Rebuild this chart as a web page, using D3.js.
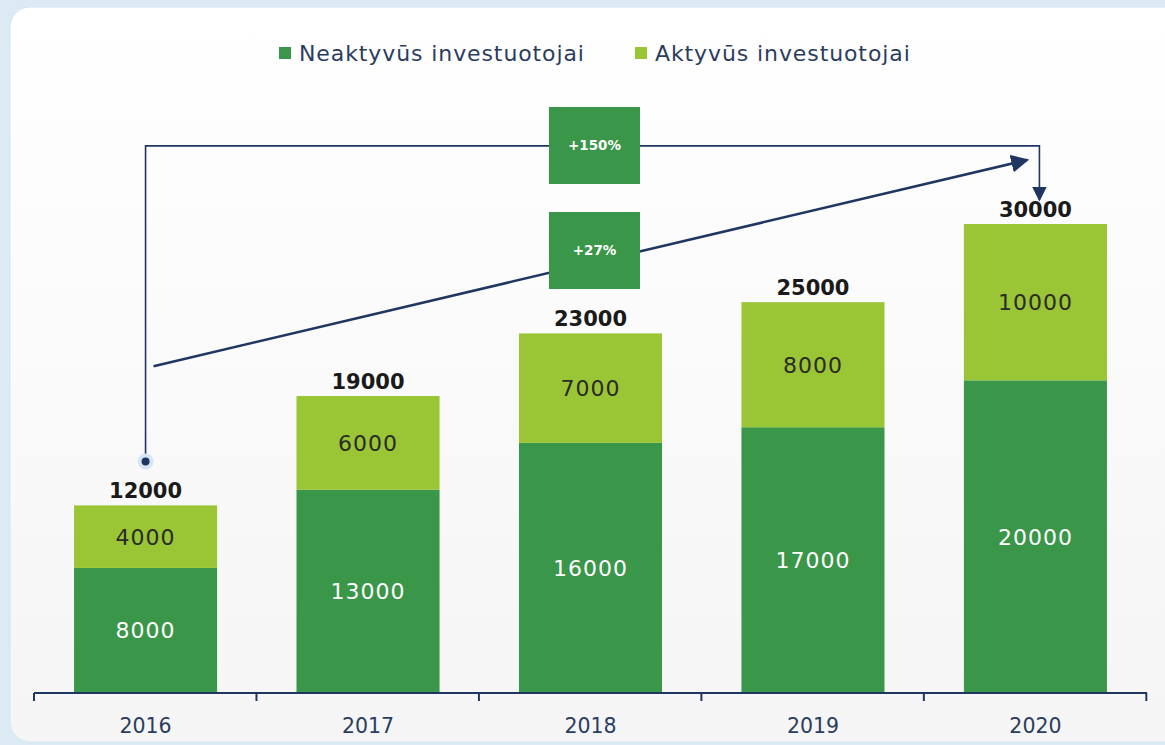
<!DOCTYPE html>
<html>
<head>
<meta charset="utf-8">
<script src="https://cdn.jsdelivr.net/npm/d3@7"></script>
<style>
  html, body { margin: 0; padding: 0; background: #dceaf4; }
  svg { display: block; font-family: "DejaVu Sans", sans-serif; }
</style>
</head>
<body>
<svg id="chart" width="1165" height="745"></svg>
<script>
// data
const years = ["2016", "2017", "2018", "2019", "2020"];
const inactive = [8000, 13000, 16000, 17000, 20000];
const active = [4000, 6000, 7000, 8000, 10000];
const seriesNames = ["Neaktyvūs investuotojai", "Aktyvūs investuotojai"];
const growthLabels = ["+150%", "+27%"];

const width = 1165, height = 745;
const colors = ["#3a9648", "#9ac534"];
const navy = "#1f3660";

const svg = d3.select("#chart");

// card with soft gradient
const defs = svg.append("defs");
const grad = defs.append("linearGradient")
    .attr("id", "cardGrad").attr("x1", 0).attr("y1", 0).attr("x2", 0).attr("y2", 1);
grad.append("stop").attr("offset", "0%").attr("stop-color", "#ffffff");
grad.append("stop").attr("offset", "100%").attr("stop-color", "#f5f5f5");

svg.append("rect")
    .attr("x", 10).attr("y", 7)
    .attr("width", width + 30).attr("height", 735)
    .attr("rx", 20).attr("ry", 20)
    .attr("fill", "url(#cardGrad)")
    .attr("stroke", "#d2e7f4")
    .attr("stroke-width", 1);

const x = d3.scaleBand()
    .domain(years)
    .range([34, 1147])
    .paddingInner(0.357)
    .paddingOuter(0.18);

const y = d3.scaleLinear()
    .domain([0, 30000])
    .range([693, 224]);

// stack
const rows = years.map((yr, i) => ({ year: yr, inactive: inactive[i], active: active[i] }));
const stack = d3.stack().keys(["inactive", "active"])(rows);

const g = svg.append("g");
stack.forEach((layer, li) => {
    g.selectAll(null)
        .data(layer)
        .enter()
        .append("rect")
        .attr("x", d => x(d.data.year))
        .attr("width", x.bandwidth())
        .attr("y", d => y(d[1]))
        .attr("height", d => y(d[0]) - y(d[1]))
        .attr("fill", colors[li]);

    g.selectAll(null)
        .data(layer)
        .enter()
        .append("text")
        .attr("x", d => x(d.data.year) + x.bandwidth() / 2)
        .attr("y", d => (y(d[0]) + y(d[1])) / 2)
        .attr("dy", "0.36em")
        .attr("text-anchor", "middle")
        .attr("font-size", 22)
        .attr("letter-spacing", 1)
        .attr("fill", li === 0 ? "#ffffff" : "#2a2a2a")
        .text(d => d[1] - d[0]);
});

// totals
g.selectAll(null)
    .data(rows)
    .enter()
    .append("text")
    .attr("x", d => x(d.year) + x.bandwidth() / 2)
    .attr("y", d => y(d.inactive + d.active) - 7)
    .attr("text-anchor", "middle")
    .attr("font-size", 21)
    .attr("font-weight", "bold")
    .attr("fill", "#1a1a1a")
    .text(d => d.inactive + d.active);

// x axis
const axis = svg.append("g")
    .attr("transform", "translate(0,693)")
    .call(d3.axisBottom(x).tickSize(0).tickPadding(25));
axis.select(".domain").remove();
axis.append("line")
    .attr("x1", 34).attr("x2", 1147)
    .attr("stroke", navy).attr("stroke-width", 2);
const bounds = d3.range(years.length + 1).map(i => 34 + i * x.step());
axis.selectAll(".sep")
    .data(bounds)
    .enter()
    .append("line")
    .attr("x1", d => d).attr("x2", d => d)
    .attr("y1", 0).attr("y2", 8)
    .attr("stroke", navy).attr("stroke-width", 2);
axis.selectAll(".tick text")
    .attr("font-family", "DejaVu Sans")
    .attr("font-size", 20.5)
    .attr("fill", "#2b3d5f");

// legend
const legend = svg.append("g");
const legendX = [279, 635];
seriesNames.forEach((name, i) => {
    legend.append("rect")
        .attr("x", legendX[i]).attr("y", 47)
        .attr("width", 12).attr("height", 12)
        .attr("fill", colors[i]);
    legend.append("text")
        .attr("x", legendX[i] + 20).attr("y", 53)
        .attr("dy", "0.36em")
        .attr("font-size", 22)
        .attr("letter-spacing", 0.9)
        .attr("fill", "#2b3d5f")
        .text(name);
});

// growth annotations
defs.append("marker")
    .attr("id", "arrowBig")
    .attr("viewBox", "0 0 10 10")
    .attr("refX", 9).attr("refY", 5)
    .attr("markerWidth", 15).attr("markerHeight", 15)
    .attr("markerUnits", "userSpaceOnUse")
    .attr("orient", "auto")
    .append("path")
    .attr("d", "M0,0 L10,5 L0,10 Z")
    .attr("fill", navy);
defs.append("marker")
    .attr("id", "arrowSlant")
    .attr("viewBox", "0 0 10 10")
    .attr("refX", 9).attr("refY", 5)
    .attr("markerWidth", 18).attr("markerHeight", 18)
    .attr("markerUnits", "userSpaceOnUse")
    .attr("orient", "auto")
    .append("path")
    .attr("d", "M0,0 L10,5 L0,10 Z")
    .attr("fill", navy);

const first = x(years[0]) + x.bandwidth() / 2;
const last = x(years[years.length - 1]) + x.bandwidth() / 2 + 4;
const bracketY = y(35000);
const dotY = y(inactive[0] + active[0]) - 44;

const ann = svg.append("g");
ann.append("path")
    .attr("d", `M${first},${dotY} V${bracketY} H${last} V${y(30000) - 24}`)
    .attr("fill", "none")
    .attr("stroke", navy)
    .attr("stroke-width", 1.6)
    .attr("marker-end", "url(#arrowBig)");
ann.append("circle")
    .attr("cx", first).attr("cy", dotY).attr("r", 8)
    .attr("fill", "#d6e6f5");
ann.append("circle")
    .attr("cx", first).attr("cy", dotY).attr("r", 4)
    .attr("fill", navy);

ann.append("line")
    .attr("x1", first + 8).attr("y1", y(20900))
    .attr("x2", last - 12).attr("y2", y(34100))
    .attr("stroke", navy)
    .attr("stroke-width", 2.5)
    .attr("marker-end", "url(#arrowSlant)");

const boxCx = (first + last) / 2 + 2;
const boxY = [107, 212];
growthLabels.forEach((lab, i) => {
    ann.append("rect")
        .attr("x", boxCx - 45.5).attr("y", boxY[i])
        .attr("width", 91).attr("height", 77)
        .attr("fill", colors[0]);
    ann.append("text")
        .attr("x", boxCx).attr("y", boxY[i] + 38.5)
        .attr("dy", "0.36em")
        .attr("text-anchor", "middle")
        .attr("font-size", 13.5)
        .attr("font-weight", "bold")
        .attr("fill", "#ffffff")
        .text(lab);
});
</script>
</body>
</html>
